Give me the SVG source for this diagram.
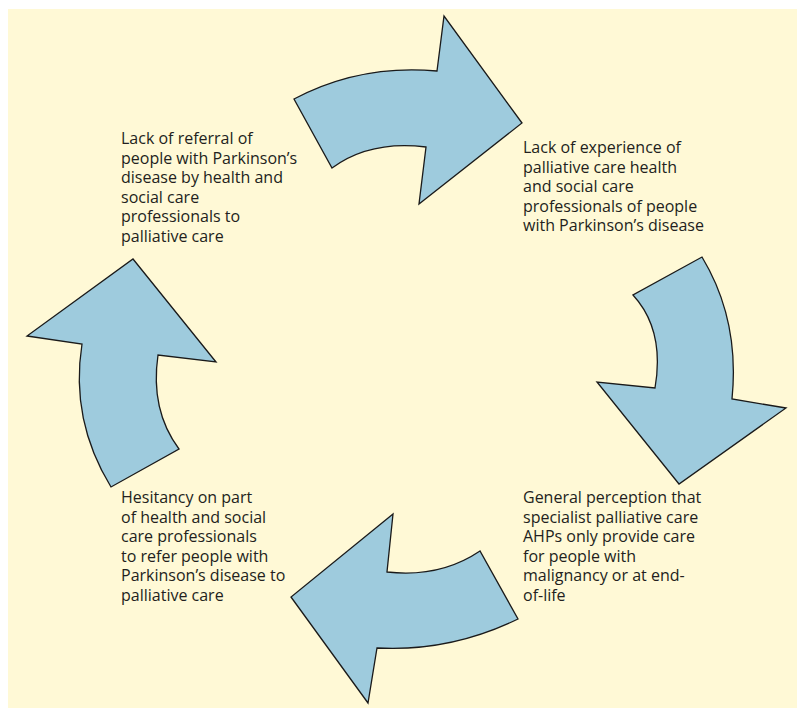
<svg xmlns="http://www.w3.org/2000/svg" width="797" height="708" viewBox="0 0 797 708">
<style>
.arrow{fill:#9ecbdd;stroke:#1a1a1a;stroke-width:1.3;stroke-linejoin:miter}
.lbl{font-family:"Open Sans","Noto Sans","Liberation Sans",sans-serif;font-size:16px;fill:#231f20}
</style>
<rect x="0" y="0" width="797" height="708" fill="#ffffff"/>
<rect x="8" y="9" width="789" height="699" fill="#fff9d6"/>
<g id="connectors">
<path id="arrow-top" class="arrow" d="M294,99 Q360,64 437,71 L444,16 L522,123 L419,204 L426,147 Q370,140 332,168 Z"/>
<path id="arrow-right" class="arrow" d="M702,257 Q740,320 732,399 L786,408 L679,484 L597,382 L655,388 Q665,330 633,295 Z"/>
<path id="arrow-bottom" class="arrow" d="M518,619 Q450,652 377,648 L368,703 L291,597 L393,514 L387,572 Q440,578 480,551 Z"/>
<path id="arrow-left" class="arrow" d="M111,487 Q70,420 82,344 L27,336 L133,259 L216,362 L158,355 Q150,410 179,449 Z"/>
</g>
<g id="node-referral">
<text class="lbl">
<tspan x="121" y="144">Lack of referral of</tspan>
<tspan x="121" y="163.5">people with Parkinson’s</tspan>
<tspan x="121" y="183">disease by health and</tspan>
<tspan x="121" y="202.5">social care</tspan>
<tspan x="121" y="222">professionals to</tspan>
<tspan x="121" y="241.5">palliative care</tspan>
</text>
</g>
<g id="node-experience">
<text class="lbl">
<tspan x="523" y="153">Lack of experience of</tspan>
<tspan x="523" y="172.5">palliative care health</tspan>
<tspan x="523" y="192">and social care</tspan>
<tspan x="523" y="211.5">professionals of people</tspan>
<tspan x="523" y="231">with Parkinson’s disease</tspan>
</text>
</g>
<g id="node-perception">
<text class="lbl">
<tspan x="523" y="503">General perception that</tspan>
<tspan x="523" y="522.5">specialist palliative care</tspan>
<tspan x="523" y="542">AHPs only provide care</tspan>
<tspan x="523" y="561.5">for people with</tspan>
<tspan x="523" y="581">malignancy or at end-</tspan>
<tspan x="523" y="600.5">of-life</tspan>
</text>
</g>
<g id="node-hesitancy">
<text class="lbl">
<tspan x="121" y="503">Hesitancy on part</tspan>
<tspan x="121" y="522.5">of health and social</tspan>
<tspan x="121" y="542">care professionals</tspan>
<tspan x="121" y="561.5">to refer people with</tspan>
<tspan x="121" y="581">Parkinson’s disease to</tspan>
<tspan x="121" y="600.5">palliative care</tspan>
</text>
</g>
</svg>
